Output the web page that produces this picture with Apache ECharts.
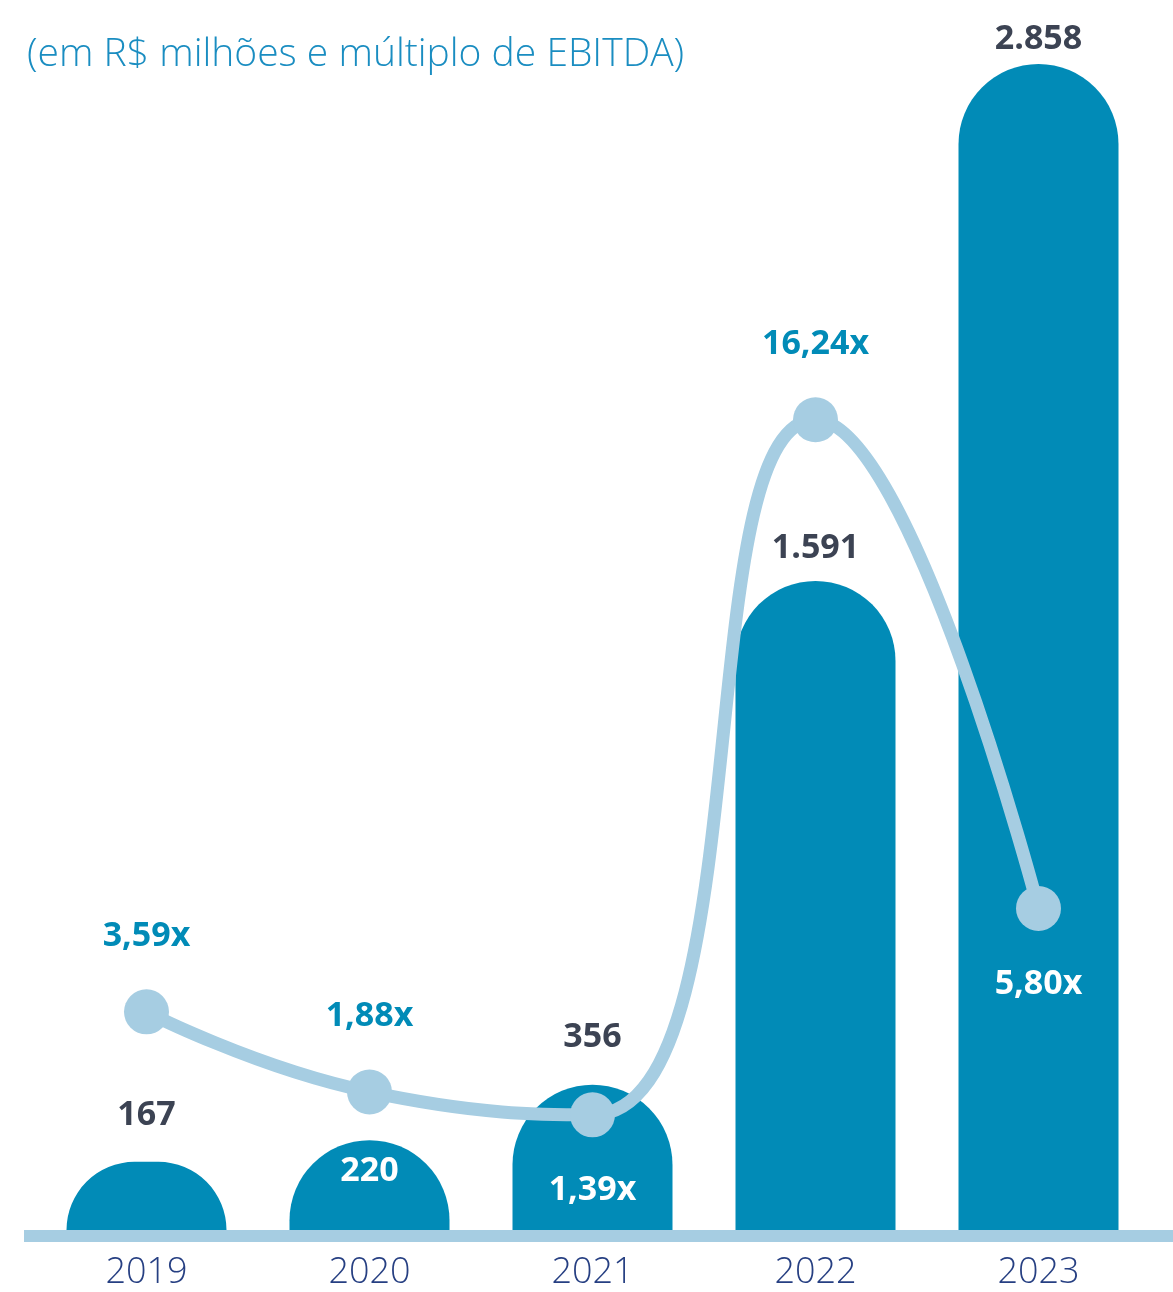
<!DOCTYPE html>
<html><head><meta charset="utf-8">
<script src="https://cdn.jsdelivr.net/npm/echarts@6/dist/echarts.min.js"></script>
<style>html,body{margin:0;padding:0;background:#fff}#c{width:1173px;height:1292px}</style>
</head><body><div id="c"></div>
<script>
// ---- data ----
const years = ['2019', '2020', '2021', '2022', '2023'];
const debtValues = [167, 220, 356, 1591, 2858];           // R$ milhões
const ebitdaMultiples = [3.59, 1.88, 1.39, 16.24, 5.80];  // múltiplo de EBITDA
const titleText = '(em R$ milhões e múltiplo de EBITDA)';

// ---- label placement (style only) ----
const barLabelPlacement = ['top', 'insideTop', 'top', 'top', 'top'];
const barLabelDistance = [30, 14, 30, 16, 8];
const multipleLabelPlacement = ['top', 'top', 'bottom', 'top', 'bottom'];

const BAR = '#018bb7', LINE = '#a6cde2', DARK = '#3c4353', YEAR = '#263f82', TITLE = '#1a8dc1';

function fmtThousands(v) { return String(v).replace(/\B(?=(\d{3})+(?!\d))/g, '.'); }
function fmtMultiple(v) { return v.toFixed(2).replace('.', ',') + 'x'; }

const boldLabel = { fontFamily: 'Open Sans', fontWeight: 700, fontSize: 34 };

const barData = debtValues.map((v, i) => {
  const inside = barLabelPlacement[i] !== 'top';
  return {
    value: v,
    label: Object.assign({
      show: true,
      position: barLabelPlacement[i],
      distance: barLabelDistance[i],
      color: inside ? '#ffffff' : DARK,
      formatter: p => fmtThousands(p.value)
    }, boldLabel)
  };
});

const lineData = ebitdaMultiples.map((v, i) => {
  const below = multipleLabelPlacement[i] === 'bottom';
  return {
    value: v,
    label: Object.assign({
      show: true,
      position: multipleLabelPlacement[i],
      distance: 36,
      color: below ? '#ffffff' : BAR,
      formatter: p => fmtMultiple(p.value)
    }, boldLabel)
  };
});

const chart = echarts.init(document.getElementById('c'), null, { renderer: 'canvas' });
chart.setOption({
  animation: false,
  backgroundColor: '#ffffff',
  title: {
    text: titleText,
    left: 22, top: 25,
    textStyle: { fontFamily: 'Open Sans', fontWeight: 300, fontSize: 39, color: TITLE, lineHeight: 50 }
  },
  grid: { left: 35, right: 23, top: 64, bottom: 62 },
  xAxis: {
    type: 'category',
    data: years,
    axisLine: { show: false },
    axisTick: { show: false },
    axisLabel: { fontFamily: 'Open Sans', fontWeight: 300, fontSize: 36, color: YEAR, margin: 25 }
  },
  yAxis: [
    { type: 'value', min: 0, max: 2858, show: false, splitLine: { show: false } },
    { type: 'value', min: -1.07, max: 23.84, show: false, splitLine: { show: false } }
  ],
  graphic: [{
    type: 'rect', left: 24, top: 1230, z: 1,
    shape: { width: 1149, height: 12 },
    style: { fill: LINE }
  }],
  series: [
    {
      type: 'bar', yAxisIndex: 0, data: barData,
      barWidth: 160,
      itemStyle: { color: BAR, borderRadius: [80, 80, 0, 0] },
      z: 2
    },
    {
      type: 'line', yAxisIndex: 1, data: lineData,
      smooth: 0.5,
      symbol: 'circle', symbolSize: 45,
      lineStyle: { color: LINE, width: 13 },
      itemStyle: { color: LINE },
      z: 3
    }
  ]
});
</script></body></html>
